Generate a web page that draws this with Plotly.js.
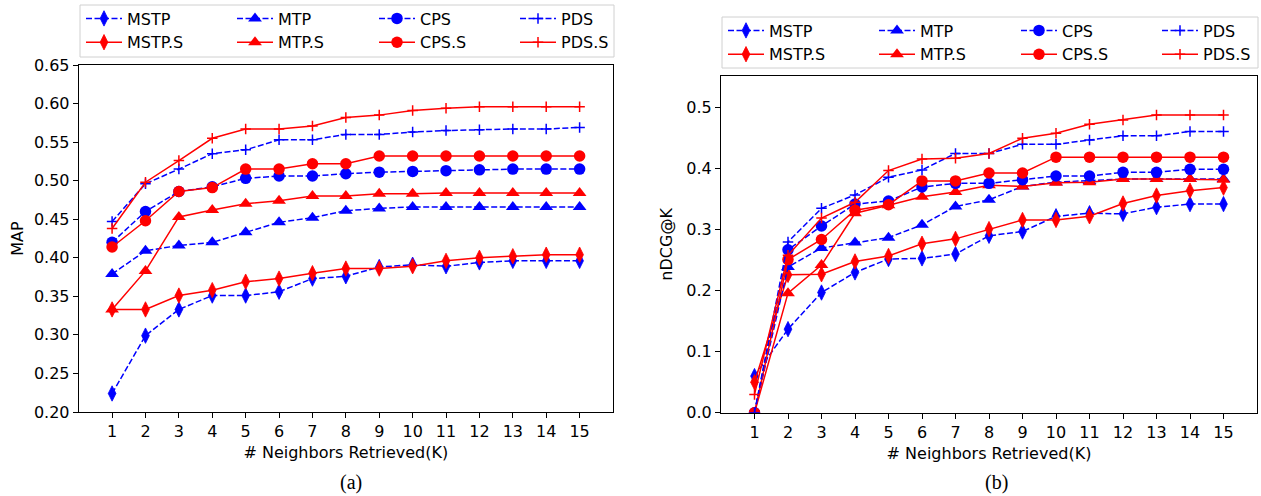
<!DOCTYPE html>
<html>
<head>
<meta charset="utf-8">
<script src="https://cdn.plot.ly/plotly-3.0.1.min.js"></script>
<style>html,body{margin:0;padding:0;background:#fff;}#chart{width:1261px;height:496px;}</style>
</head>
<body>
<div id="chart"></div>
<script>
// ---- data ----
const K = [1,2,3,4,5,6,7,8,9,10,11,12,13,14,15];
const xTickLabels = ["1","2","3","4","5","6","7","8","9","10","11","12","13","14","15"];
const seriesNames = ["MSTP","MSTP.S","MTP","MTP.S","CPS","CPS.S","PDS","PDS.S"];

// (a) MAP
const mapMSTP  = [0.224,0.299,0.333,0.351,0.351,0.356,0.373,0.376,0.388,0.391,0.389,0.394,0.396,0.396,0.396];
const mapMSTPS = [0.333,0.333,0.351,0.358,0.369,0.373,0.380,0.386,0.386,0.389,0.396,0.400,0.402,0.404,0.404];
const mapMTP   = [0.379,0.409,0.416,0.420,0.433,0.446,0.452,0.461,0.464,0.466,0.466,0.466,0.466,0.466,0.466];
const mapMTPS  = [0.333,0.383,0.453,0.462,0.470,0.474,0.480,0.480,0.483,0.483,0.484,0.484,0.484,0.484,0.484];
const mapCPS   = [0.420,0.460,0.486,0.492,0.503,0.506,0.506,0.509,0.511,0.512,0.513,0.514,0.515,0.515,0.515];
const mapCPSS  = [0.414,0.448,0.486,0.491,0.515,0.515,0.522,0.522,0.532,0.532,0.532,0.532,0.532,0.532,0.532];
const mapPDS   = [0.447,0.496,0.515,0.535,0.540,0.553,0.553,0.560,0.560,0.563,0.565,0.566,0.567,0.567,0.569];
const mapPDSS  = [0.438,0.498,0.526,0.555,0.567,0.567,0.571,0.582,0.585,0.591,0.594,0.596,0.596,0.596,0.596];

// (b) nDCG@K
const ndMSTP  = [0.060,0.137,0.197,0.230,0.252,0.253,0.260,0.290,0.297,0.322,0.327,0.326,0.337,0.342,0.342];
const ndMSTPS = [0.050,0.226,0.227,0.248,0.257,0.277,0.285,0.301,0.316,0.316,0.322,0.343,0.356,0.364,0.369];
const ndMTP   = [0.000,0.239,0.270,0.279,0.287,0.308,0.338,0.349,0.371,0.378,0.380,0.383,0.383,0.383,0.383];
const ndMTPS  = [0.000,0.196,0.242,0.327,0.340,0.354,0.362,0.373,0.371,0.377,0.378,0.383,0.383,0.383,0.382];
const ndCPS   = [0.000,0.267,0.306,0.342,0.347,0.370,0.376,0.376,0.382,0.388,0.388,0.394,0.394,0.399,0.399];
const ndCPSS  = [0.000,0.251,0.284,0.332,0.341,0.380,0.380,0.393,0.393,0.419,0.419,0.419,0.419,0.419,0.419];
const ndPDS   = [0.000,0.280,0.335,0.357,0.386,0.398,0.425,0.425,0.440,0.440,0.447,0.454,0.454,0.461,0.461];
const ndPDSS  = [0.030,0.258,0.319,0.345,0.397,0.416,0.417,0.425,0.450,0.458,0.473,0.480,0.488,0.488,0.488];

const mapTickVals = [0.20,0.25,0.30,0.35,0.40,0.45,0.50,0.55,0.60,0.65];
const ndTickVals = [0.0,0.1,0.2,0.3,0.4,0.5];

// ---- styling ----
const W = 1261, H = 496;
const FONT = "DejaVu Sans";
const BLUE = "#0000ff", RED = "#ff0000";
const px = v => v / W;
const py = v => 1 - v / H;

const markerFor = {
  "MSTP": {symbol:"diamond-tall", size:11, lw:0.8},
  "MTP":  {symbol:"triangle-up", size:12, lw:0},
  "CPS":  {symbol:"circle", size:11.5, lw:0},
  "PDS":  {symbol:"cross-thin", size:7.5, lw:1.5}
};

function mk(name, y, xa, ya, legendId) {
  const isS = name.endsWith(".S");
  const base = name.replace(".S","");
  const col = isS ? RED : BLUE;
  const m = markerFor[base];
  return {
    type: "scatter", mode: "lines+markers", name: name,
    x: K, y: y, xaxis: xa, yaxis: ya, legend: legendId,
    line: {color: col, width: 1.5, dash: isS ? "solid" : "6px,2.5px"},
    marker: {symbol: m.symbol, size: m.size, color: col,
             line: {color: col, width: m.lw}}
  };
}

const leftData = [mapMSTP, mapMSTPS, mapMTP, mapMTPS, mapCPS, mapCPSS, mapPDS, mapPDSS];
const rightData = [ndMSTP, ndMSTPS, ndMTP, ndMTPS, ndCPS, ndCPSS, ndPDS, ndPDSS];
const traces = [];
seriesNames.forEach((n, i) => {
  const col = Math.floor(i / 2);
  traces.push(mk(n, leftData[i], "x", "y", col === 0 ? "legend" : "legend" + (col + 1)));
});
seriesNames.forEach((n, i) => {
  const col = Math.floor(i / 2);
  traces.push(mk(n, rightData[i], "x2", "y2", "legend" + (col + 5)));
});

function xax(domain) {
  return {
    domain: domain, range: [0, 16], tickvals: K, ticktext: xTickLabels,
    showgrid: false, zeroline: false, showline: true, mirror: true,
    linecolor: "#000", linewidth: 1, ticks: "outside", ticklen: 5, tickwidth: 1, tickcolor: "#000",
    tickfont: {family: FONT, size: 16, color: "#000"},
    title: {text: "# Neighbors Retrieved(K)", font: {family: FONT, size: 16, color: "#000"}, standoff: 6},
    automargin: false, fixedrange: true
  };
}
function yax(domain, range, vals, fmt, title, anchor, standoff) {
  return {
    domain: domain, range: range, tickvals: vals, tickformat: fmt, anchor: anchor,
    showgrid: false, zeroline: false, showline: true, mirror: true,
    linecolor: "#000", linewidth: 1, ticks: "outside", ticklen: 5, tickwidth: 1, tickcolor: "#000",
    tickfont: {family: FONT, size: 16, color: "#000"},
    title: {text: title, font: {family: FONT, size: 16, color: "#000"}, standoff: standoff},
    automargin: false, fixedrange: true
  };
}

const legendCols = [81, 232, 374, 515];
const layout = {
  width: W, height: H,
  margin: {l: 0, r: 0, t: 0, b: 0},
  paper_bgcolor: "#fff", plot_bgcolor: "#fff",
  font: {family: FONT, size: 16, color: "#000"},
  showlegend: true,
  xaxis: Object.assign(xax([px(78.7), px(613)]), {anchor: "y"}),
  yaxis: yax([py(412), py(65)], [0.2, 0.65], mapTickVals, ".2f", "MAP", "x", 6),
  xaxis2: Object.assign(xax([px(721), px(1257)]), {anchor: "y2"}),
  yaxis2: yax([py(412.7), py(76)], [0, 0.552], ndTickVals, ".1f", "nDCG@K", "x2", 9),
  shapes: [
    {type: "rect", xref: "paper", yref: "paper", x0: px(80), x1: px(614), y0: py(57), y1: py(5),
     line: {color: "#d0d0d0", width: 1}, fillcolor: "rgba(255,255,255,0.8)", layer: "above"},
    {type: "rect", xref: "paper", yref: "paper", x0: px(722), x1: px(1258), y0: py(68), y1: py(17),
     line: {color: "#d0d0d0", width: 1}, fillcolor: "rgba(255,255,255,0.8)", layer: "above"}
  ],
  annotations: [
    {text: "(a)", xref: "paper", yref: "paper", x: px(351), y: py(482), showarrow: false,
     xanchor: "center", yanchor: "middle", font: {family: "Liberation Serif", size: 20, color: "#000"}},
    {text: "(b)", xref: "paper", yref: "paper", x: px(996), y: py(482), showarrow: false,
     xanchor: "center", yanchor: "middle", font: {family: "Liberation Serif", size: 20, color: "#000"}}
  ]
};
function legendAt(left, top) {
  return {x: px(left), y: py(top), xref: "paper", yref: "paper", xanchor: "left", yanchor: "top",
          orientation: "v", bgcolor: "rgba(0,0,0,0)", borderwidth: 0, itemwidth: 36,
          font: {family: FONT, size: 16, color: "#000"}, itemclick: false, itemdoubleclick: false};
}
legendCols.forEach((c, i) => {
  layout[i === 0 ? "legend" : "legend" + (i + 1)] = legendAt(c, 1.5);
  layout["legend" + (i + 5)] = legendAt(c + 642, 13.5);
});

Plotly.newPlot("chart", traces, layout, {displayModeBar: false, staticPlot: true});
</script>
</body>
</html>
